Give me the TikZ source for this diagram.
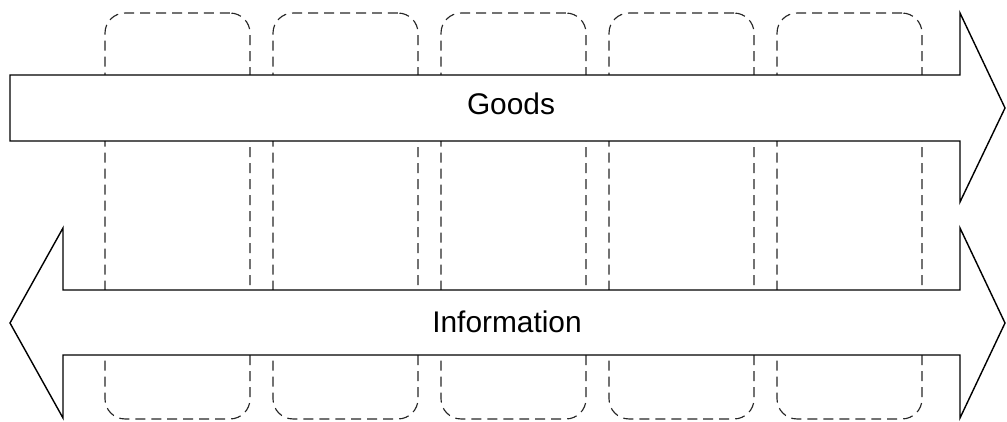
\documentclass[tikz,border=0pt]{standalone}
\usepackage{fontspec}
\setmainfont{Liberation Sans}
\usetikzlibrary{positioning}

\tikzset{
  stage/.style={draw=black!85, dash pattern=on 0.2cm off 0.12cm, line width=0.65pt,
    rounded corners=0.4cm, minimum width=2.9cm, minimum height=8.12cm,
    inner sep=0pt, outer sep=0pt},
  flow/.style={draw=black, fill=white, line width=0.8pt, line join=miter},
  flowlabel/.style={font=\fontsize{17}{20}\selectfont, anchor=base}
}

\begin{document}
\begin{tikzpicture}[x=0.02cm, y=-0.02cm]
\useasboundingbox (0,0) rectangle (1007,422);
% stages behind the flows
\foreach \i in {0,...,4}
  \node [stage] (s\i) at (177.5+168*\i, 216) {};
% goods flow
\draw [flow] (10,75) -- (960,75) -- (960,13) -- (1005,108) -- (960,202)
  -- (960,141) -- (10,141) -- cycle;
\node [flowlabel] (goods) at (511,115) {Goods};
% information flow, both ways
\draw [flow] (63,290) -- (960,290) -- (960,228) -- (1005,323) -- (960,418)
  -- (960,355) -- (63,355) -- (63,418) -- (10,323) -- (63,228) -- cycle;
\node [flowlabel] (info) at (507,332) {Information};
\end{tikzpicture}
\end{document}
